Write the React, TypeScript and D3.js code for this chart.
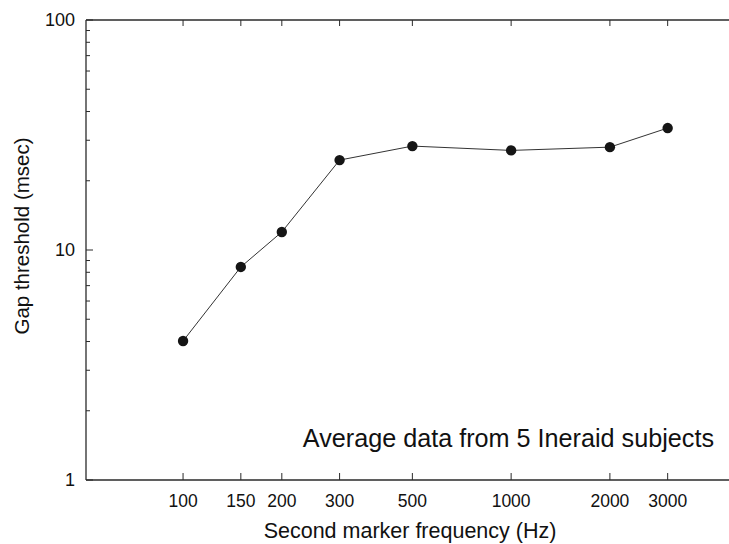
import React from "react";
import * as d3 from "d3";

const frequencies = [100, 150, 200, 300, 500, 1000, 2000, 3000];
const gapThresholds = [4.02, 8.44, 11.98, 24.6, 28.3, 27.1, 28.0, 33.9];
const xTickValues = [100, 150, 200, 300, 500, 1000, 2000, 3000];
const yMajorTicks = [1, 10, 100];
const yMinorTicks = [2, 3, 4, 5, 6, 7, 8, 9, 20, 30, 40, 50, 60, 70, 80, 90];

const W = 729;
const H = 544;
const left = 86;
const right = 729;
const top = 20;
const bottom = 480;
const font = "Liberation Sans, Arial, Helvetica, sans-serif";
const axisColor = "#2a2a2a";

export default function App() {
  const x = d3.scaleLog().domain([50.6, 4614]).range([left, right]);
  const y = d3.scaleLog().domain([1, 100]).range([bottom, top]);
  const line = d3
    .line<number>()
    .x((_, i) => x(frequencies[i]))
    .y((d) => y(d));

  return (
    <svg
      width={W}
      height={H}
      style={{ position: "absolute", left: 0, top: 0, background: "#fff" }}
      fontFamily={font}
    >
      {/* frame lines */}
      <line x1={left} x2={right} y1={top} y2={top} stroke={axisColor} strokeWidth={1.3} />
      <line x1={left} x2={right} y1={bottom} y2={bottom} stroke={axisColor} strokeWidth={1.3} />
      <line x1={left} x2={left} y1={top} y2={bottom} stroke={axisColor} strokeWidth={1.3} />

      {/* x ticks bottom & top */}
      {xTickValues.map((v) => (
        <g key={"xt" + v}>
          <line x1={x(v)} x2={x(v)} y1={bottom} y2={bottom - 7} stroke={axisColor} strokeWidth={1} />
          <line x1={x(v)} x2={x(v)} y1={top} y2={top + 6} stroke={axisColor} strokeWidth={1} />
          <text x={x(v)} y={507} textAnchor="middle" fontSize={17.5} fill="#111">
            {v}
          </text>
        </g>
      ))}

      {/* y ticks */}
      {yMajorTicks.map((v) => (
        <g key={"ym" + v}>
          <line x1={left} x2={left + 7} y1={y(v)} y2={y(v)} stroke={axisColor} strokeWidth={1} />
          <text x={75} y={y(v)} dy="0.36em" textAnchor="end" fontSize={18} fill="#111">
            {v}
          </text>
        </g>
      ))}
      {yMinorTicks.map((v) => (
        <line key={"yn" + v} x1={left} x2={left + 4} y1={y(v)} y2={y(v)} stroke={axisColor} strokeWidth={1} />
      ))}

      {/* data */}
      <path d={line(gapThresholds) || ""} fill="none" stroke="#333" strokeWidth={1} />
      {gapThresholds.map((d, i) => (
        <circle key={i} cx={x(frequencies[i])} cy={y(d)} r={5.2} fill="#151515" />
      ))}

      {/* labels */}
      <text
        transform={`translate(29, 236) rotate(-90)`}
        textAnchor="middle"
        fontSize={20.5}
        fill="#111"
      >
        Gap threshold (msec)
      </text>
      <text x={410} y={538} textAnchor="middle" fontSize={21.5} fill="#111">
        Second marker frequency (Hz)
      </text>
      <text x={714} y={446.5} textAnchor="end" fontSize={25.2} fill="#111">
        Average data from 5 Ineraid subjects
      </text>
    </svg>
  );
}
